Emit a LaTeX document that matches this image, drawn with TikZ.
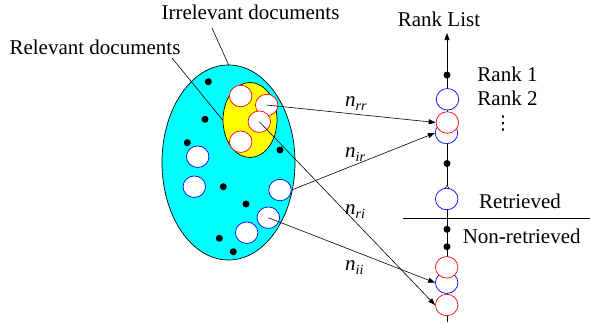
\documentclass[tikz,border=0pt]{standalone}
\usepackage{fontspec}
\setmainfont{Liberation Serif}
\newfontfamily\symfnt{DejaVu Sans}
\usetikzlibrary{arrows.meta,shapes.geometric}
\definecolor{aquafill}{RGB}{0,255,255}
\definecolor{yelfill}{RGB}{255,255,0}
\definecolor{docred}{RGB}{255,0,0}
\definecolor{docblue}{RGB}{0,0,255}
\newcommand{\nlab}[1]{\textit{n}\raisebox{-4pt}{\fontsize{14}{14}\selectfont\textit{#1}}}
\begin{document}
\begin{tikzpicture}[x=1pt,y=-1pt,
  lbl/.style={font=\fontsize{21}{25}\selectfont, inner sep=0pt, anchor=base},
  nl/.style={font=\fontsize{21}{25}\selectfont, inner sep=0pt, anchor=base west},
  doc/.style={ellipse, draw, fill=white, minimum width=22.5pt, minimum height=21.5pt, inner sep=0pt, line width=0.7pt},
  reldoc/.style={doc, draw=docred},
  irrdoc/.style={doc, draw=docblue},
  dotn/.style={circle, fill=black, minimum size=7pt, inner sep=0pt},
  arr/.style={-{Triangle[length=7pt,width=5pt]}, line width=0.6pt},
  lead/.style={line width=0.6pt}]
\useasboundingbox (0,0) rectangle (590,322);

% collection
\node[ellipse, draw, fill=aquafill, minimum width=133pt, minimum height=195pt, inner sep=0pt, line width=0.7pt] (E) at (228.5,162.5) {};
\node[ellipse, draw, fill=yelfill, minimum width=54pt, minimum height=75pt, inner sep=0pt, line width=0.7pt] (Y) at (250,120) {};

% black dots in collection
\node[dotn] (d1) at (208.3,81.7) {};
\node[dotn] (d2) at (205,119.3) {};
\node[dotn] (d3) at (187.3,142.7) {};
\node[dotn] (d4) at (280,150) {};
\node[dotn] (d5) at (223.3,186.7) {};
\node[dotn] (d6) at (246,204) {};
\node[dotn] (d7) at (219.3,238.3) {};
\node[dotn] (d8) at (233.3,251.7) {};

% relevant documents (red)
\node[reldoc] (r1) at (240.7,96) {};
\node[reldoc] (r2) at (266.7,105) {};
\node[reldoc] (r3) at (259.3,121.7) {};
\node[reldoc] (r4) at (240.7,141.7) {};

% irrelevant documents (blue)
\node[irrdoc] (b1) at (197.7,156.7) {};
\node[irrdoc] (b2) at (194.3,186.7) {};
\node[irrdoc] (b3) at (280,190) {};
\node[irrdoc] (b4) at (268.3,217.7) {};
\node[irrdoc] (b5) at (246.7,232.7) {};

% rank list axis
\coordinate (axbot) at (447,322);
\coordinate (axtop) at (447,33);
\draw[arr] (axbot) -- (axtop);
\draw[-{Triangle[open,fill=white,length=4pt,width=6pt]}, line width=0.5pt] (447,190) -- (447,185);

\node[dotn] (k0) at (447,75) {};
\node[irrdoc] (k1) at (447.5,99.3) {};
\node[irrdoc] (k3) at (446.5,133) {};
\node[reldoc] (k2) at (447.3,122.5) {};
\node[dotn] (kd1) at (447,163.5) {};
\node[irrdoc] (k4) at (446.7,199) {};
\node[dotn] (kd2) at (447,229.3) {};
\node[dotn] (kd3) at (447,246.7) {};
\node[irrdoc] (k6) at (446.7,282.7) {};
\node[reldoc] (k5) at (446.7,267.3) {};
\node[reldoc] (k7) at (446.7,305) {};

% cut line
\coordinate (cutl) at (403,218.3);
\coordinate (cutr) at (590,218.3);
\draw[line width=0.7pt] (cutl) -- (cutr);

% texts
\node[lbl] (irrtxt) at (250.5,19.3) {Irrelevant documents};
\node[lbl] (reltxt) at (95,54.5) {Relevant documents};
\node[lbl] (ranklist) at (439,26) {Rank List};
\node[lbl] (rank1) at (507.5,81) {Rank 1};
\node[lbl] (rank2) at (507.5,105) {Rank 2};
\node[font=\symfnt\fontsize{19}{19}\selectfont, inner sep=0pt, anchor=center] (vd) at (503,123.5) {⋮};
\node[lbl] (retr) at (520,208) {Retrieved};
\node[lbl] (nonretr) at (521.7,243.3) {Non-retrieved};

% leaders
\coordinate (irrfoot) at (212,28);
\coordinate (relfoot) at (172,58);
\draw[lead] (irrfoot) -- (E.north);
\draw[lead] (relfoot) -- (Y.west);

% mapping arrows
\draw[arr] (r2.center) -- (k2.west);
\draw[arr] (b3.east) -- (k3.west);
\draw[arr] (r3.center) -- (k7.west);
\draw[arr] (b4.center) -- (k6.west);

% arrow labels
\node[nl] (nrr) at (345,106.7) {\nlab{rr}};
\node[nl] (nir) at (345,157) {\nlab{ir}};
\node[nl] (nri) at (345,214.5) {\nlab{ri}};
\node[nl] (nii) at (345,270) {\nlab{ii}};
\end{tikzpicture}
\end{document}
